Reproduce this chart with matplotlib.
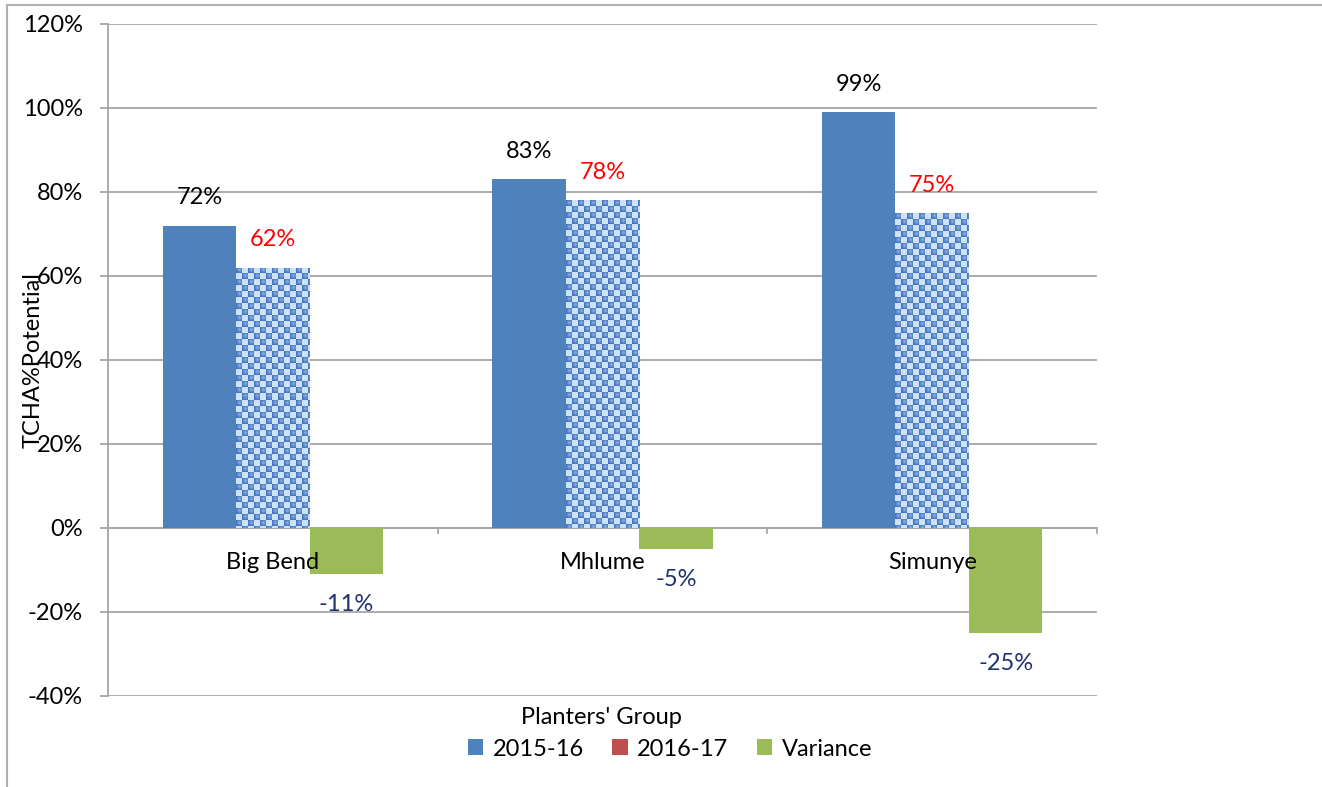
import numpy as np
import matplotlib
matplotlib.use("Agg")
import matplotlib.pyplot as plt
from matplotlib.patches import Patch
from matplotlib.lines import Line2D

# Data
groups = ["Big Bend", "Mhlume", "Simunye"]
season_2015_16 = [0.72, 0.83, 0.99]
season_2016_17 = [0.62, 0.78, 0.75]
variance = [-0.11, -0.05, -0.25]
series_names = ["2015-16", "2016-17", "Variance"]
yticks = [-0.4, -0.2, 0.0, 0.2, 0.4, 0.6, 0.8, 1.0, 1.2]

BLUE = "#4f81bd"
RED = "#c0504d"
GREEN = "#9bbb59"
GRID = "#a6a6a6"
NAVY = "#1f3170"

plt.rcParams["font.family"] = ["Lato", "DejaVu Sans"]
FS = 17

W, H = 1322, 787
fig = plt.figure(figsize=(W / 100, H / 100), dpi=100)
ax = fig.add_axes([108 / W, (H - 696) / H, (1097 - 108) / W, (696 - 24) / H])

x = np.arange(len(groups))
bw = 0.223

ax.set_xlim(-0.5, len(groups) - 0.5)
ax.set_ylim(-0.4, 1.2)

# Grid and axes
ax.set_yticks(yticks)
ax.set_yticklabels([f"{int(round(v * 100))}%" for v in yticks], fontsize=FS)
ax.yaxis.grid(True, color=GRID, lw=1.3, zorder=0)
ax.set_axisbelow(True)
ax.tick_params(axis="y", length=6, width=1.3, color=GRID, pad=12)
ax.set_xticks([])
for s in ["top", "right", "bottom"]:
    ax.spines[s].set_visible(False)
ax.spines["left"].set_color(GRID)
ax.spines["left"].set_linewidth(1.3)
ax.axhline(0, color=GRID, lw=1.3, zorder=1)
for b in np.arange(-0.5, len(groups) + 0.5, 1.0)[1:]:
    ax.plot([b, b], [0, -0.012], color=GRID, lw=1.3, zorder=1, clip_on=False)

# Bars
b1 = ax.bar(x - bw, season_2015_16, bw, color=BLUE, zorder=2)
b2 = ax.bar(x, season_2016_17, bw, facecolor="none", edgecolor="none", zorder=2)
b3 = ax.bar(x + bw, variance, bw, color=GREEN, zorder=3)


def checker_texture(wpx, hpx, cell=6):
    yy, xx = np.mgrid[0:hpx, 0:wpx]
    cx = (xx // cell)
    cy = (yy // cell)
    dark = ((cx + cy) % 2 == 0)
    fx = (xx % cell) / cell - 0.5
    fy = (yy % cell) / cell - 0.35
    r = np.sqrt(fx ** 2 + fy ** 2)
    dark_col = np.array([0.27, 0.45, 0.74])
    hi_col = np.array([0.55, 0.70, 0.90])
    light_col = np.array([0.80, 0.89, 0.97])
    shade = np.clip(1 - r * 1.8, 0, 1)[..., None]
    img = np.where(dark[..., None], dark_col * (1 - shade) + hi_col * shade, light_col)
    return img


fig.canvas.draw()
for rect in b2.patches:
    bb = rect.get_window_extent()
    wpx, hpx = max(int(round(bb.width)), 1), max(int(round(bb.height)), 1)
    tex = checker_texture(wpx, hpx)
    x0, y0 = rect.get_x(), rect.get_y()
    im = ax.imshow(tex, extent=[x0, x0 + rect.get_width(), y0, y0 + rect.get_height()],
                   origin="upper", interpolation="nearest", aspect="auto", zorder=2)
    im.set_clip_path(rect)
ax.set_xlim(-0.5, len(groups) - 0.5)
ax.set_ylim(-0.4, 1.2)

# Value labels
for xi, v in zip(x - bw, season_2015_16):
    ax.annotate(f"{int(round(v * 100))}%", (xi, v), xytext=(0, 20), textcoords="offset points",
                ha="center", va="center", fontsize=FS, color="black", zorder=5)
for xi, v in zip(x, season_2016_17):
    ax.annotate(f"{int(round(v * 100))}%", (xi, v), xytext=(0, 20), textcoords="offset points",
                ha="center", va="center", fontsize=FS, color="#ff0000", zorder=5)
for xi, v in zip(x + bw, variance):
    ax.annotate(f"{int(round(v * 100))}%", (xi, v), xytext=(0, -22), textcoords="offset points",
                ha="center", va="center", fontsize=FS, color=NAVY, zorder=5)

# Category labels just below the zero line
for xi, name in zip(x, groups):
    ax.annotate(name, (xi, 0), xytext=(0, -25), textcoords="offset points",
                ha="center", va="center", fontsize=FS, color="black", zorder=6)

# Axis titles
fig.text(33 / W, 1 - 360 / H, "TCHA%Potential", rotation=90, ha="center", va="center", fontsize=FS)
fig.text(601 / W, 1 - 718 / H, "Planters' Group", ha="center", va="center", fontsize=FS)

handles = [Patch(facecolor=c, edgecolor="none") for c in (BLUE, RED, GREEN)]
fig.legend(handles, series_names, loc="center", bbox_to_anchor=(670 / W, 1 - 749 / H),
           ncol=3, frameon=False, fontsize=FS, handlelength=0.65, handleheight=0.65,
           handletextpad=0.4, columnspacing=1.2)

# Outer frame
fig.add_artist(Line2D([7 / W, 7 / W], [0, 1 - 5 / H], transform=fig.transFigure, color="#b0b0b0", lw=1.5))
fig.add_artist(Line2D([7 / W, 1], [1 - 5 / H, 1 - 5 / H], transform=fig.transFigure, color="#b0b0b0", lw=1.5))

fig.savefig("out.png", dpi=100)
